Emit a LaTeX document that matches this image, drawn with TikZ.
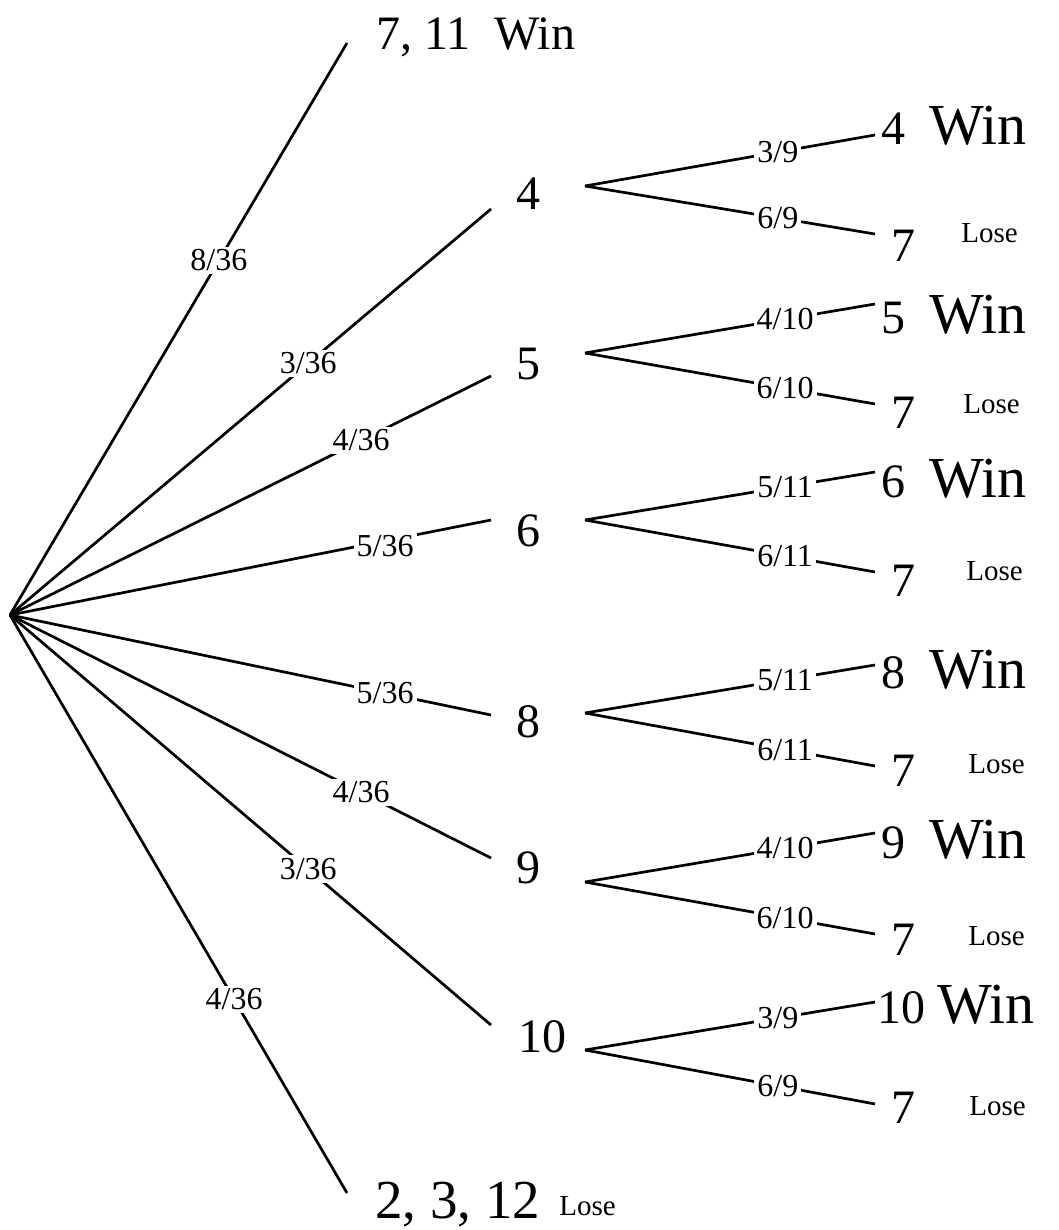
\documentclass[tikz,border=0pt]{standalone}
\usepackage{fontspec}
\setmainfont{Liberation Serif}
\usetikzlibrary{positioning}

\newcommand{\wintext}{{\fontsize{58}{58}\selectfont Win}}

\begin{document}
\begin{tikzpicture}[x=1pt,y=-1pt,line width=2.7pt,
  big/.style={inner sep=0pt,anchor=base west,font=\fontsize{48}{48}\selectfont},
  small/.style={inner sep=0pt,anchor=base west,font=\fontsize{29}{29}\selectfont},
  prob/.style={fill=white,inner sep=3pt,font=\fontsize{32}{32}\selectfont}
]

\useasboundingbox (0,0) rectangle (1058,1230);

% first roll
\coordinate (r) at (10,615);
\coordinate (e711) at (347,43);
\coordinate (e4) at (491,209);
\coordinate (e5) at (491,376);
\coordinate (e6) at (491,520);
\coordinate (e8) at (491,715);
\coordinate (e9) at (491,858);
\coordinate (e10) at (491,1025);
\coordinate (e2312) at (347,1193);

\node[big] (t711) at (375,50) {7, 11\ \ Win};
\node[big] (n4) at (515,210) {4};
\node[big] (n5) at (515,379) {5};
\node[big] (n6) at (515,546) {6};
\node[big] (n8) at (515,737) {8};
\node[big] (n9) at (515,883) {9};
\node[big] (n10) at (517,1052) {10};
\node[big,font=\fontsize{55}{55}\selectfont] (t2312) at (374,1218) {2, 3, 12};
\node[small] (x2312) at (558,1215) {Lose};

\draw (r) -- node[prob,pos=.62] {8/36} (e711);
\draw (r) -- node[prob,pos=.62] {3/36} (e4);
\draw (r) -- node[prob,pos=.73] {4/36} (e5);
\draw (r) -- node[prob,pos=.78,yshift=-5pt] {5/36} (e6);
\draw (r) -- node[prob,pos=.78] {5/36} (e8);
\draw (r) -- node[prob,pos=.73] {4/36} (e9);
\draw (r) -- node[prob,pos=.62] {3/36} (e10);
\draw (r) -- node[prob,pos=.665] {4/36} (e2312);

% point rolled again
\coordinate (b4) at (585,186);
\coordinate (b5) at (585,353);
\coordinate (b6) at (585,520);
\coordinate (b8) at (585,713);
\coordinate (b9) at (585,882);
\coordinate (b10) at (585,1050);

\coordinate (w4e) at (875,135);  \coordinate (l4e) at (875,234);
\coordinate (w5e) at (875,304);  \coordinate (l5e) at (875,404);
\coordinate (w6e) at (875,472);  \coordinate (l6e) at (875,572);
\coordinate (w8e) at (875,665);  \coordinate (l8e) at (875,766);
\coordinate (w9e) at (875,833);  \coordinate (l9e) at (875,934);
\coordinate (w10e) at (875,1002); \coordinate (l10e) at (875,1104);

\node[big] (w4) at (880,145) {4\enspace\wintext};
\node[big] (w5) at (880,333) {5\enspace\wintext};
\node[big] (w6) at (880,497) {6\enspace\wintext};
\node[big] (w8) at (880,688) {8\enspace\wintext};
\node[big] (w9) at (880,858) {9\enspace\wintext};
\node[big] (w10) at (876,1023) {10 \wintext};

\node[big] (l4) at (890,262) {7};
\node[big] (l5) at (890,428) {7};
\node[big] (l6) at (890,596) {7};
\node[big] (l8) at (890,786) {7};
\node[big] (l9) at (890,955) {7};
\node[big] (l10) at (890,1123) {7};

\node[small] (x4) at (960,243) {Lose};
\node[small] (x5) at (962,413) {Lose};
\node[small] (x6) at (965,580) {Lose};
\node[small] (x8) at (967,773) {Lose};
\node[small] (x9) at (967,945) {Lose};
\node[small] (x10) at (968,1115) {Lose};

\draw (b4) -- node[prob,pos=.665] {3/9} (w4e);
\draw (b4) -- node[prob,pos=.665] {6/9} (l4e);
\draw (b5) -- node[prob,pos=.69] {4/10} (w5e);
\draw (b5) -- node[prob,pos=.69] {6/10} (l5e);
\draw (b6) -- node[prob,pos=.69] {5/11} (w6e);
\draw (b6) -- node[prob,pos=.69] {6/11} (l6e);
\draw (b8) -- node[prob,pos=.69] {5/11} (w8e);
\draw (b8) -- node[prob,pos=.69] {6/11} (l8e);
\draw (b9) -- node[prob,pos=.69] {4/10} (w9e);
\draw (b9) -- node[prob,pos=.69] {6/10} (l9e);
\draw (b10) -- node[prob,pos=.665] {3/9} (w10e);
\draw (b10) -- node[prob,pos=.665] {6/9} (l10e);

\end{tikzpicture}
\end{document}
